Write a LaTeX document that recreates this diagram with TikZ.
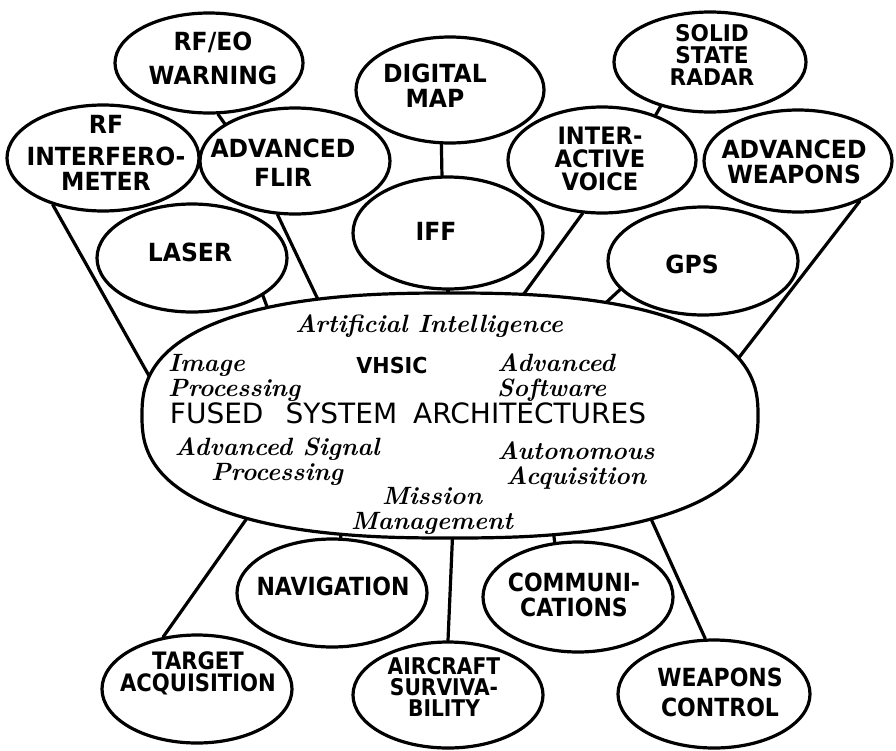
\documentclass[tikz,border=0pt]{standalone}
\usepackage{fontspec}
\usetikzlibrary{shapes.geometric}
\newfontfamily\capsfont[FakeStretch=0.94]{DejaVu Sans}
\newfontfamily\capsnarrow[FakeStretch=0.88]{DejaVu Sans}
\newfontfamily\plainsans{DejaVu Sans}

\pgfdeclarelayer{background}
\pgfsetlayers{background,main}

\tikzset{
  ink/.style={line width=3.2pt},
  bub/.style={ellipse, draw, fill=white, ink, inner sep=0pt},
  lbl/.style={font=\capsfont\bfseries\fontsize{25}{25}\selectfont, align=center, inner sep=0pt},
  lbln/.style={font=\capsnarrow\bfseries\fontsize{25}{25}\selectfont, align=center, inner sep=0pt},
  script/.style={font=\bfseries\itshape\fontsize{25}{25}\selectfont, inner sep=0pt},
  link/.style={ink, line cap=round},
}

\begin{document}
\begin{tikzpicture}[x=1pt, y=-1pt]
  \useasboundingbox (0,0) rectangle (896,750);

  % ---------- outer bubbles: sensors and subsystems ----------
  \node[bub, minimum width=188pt, minimum height=100pt] (rfeo)  at (209,63)  {};
  \node[bub, minimum width=188pt, minimum height=106pt] (dmap)  at (450,90)  {};
  \node[bub, minimum width=192pt, minimum height=100pt] (ssr)   at (710,62)  {};
  \node[bub, minimum width=192pt, minimum height=106pt] (rfi)   at (103,158) {};
  \node[bub, minimum width=190pt, minimum height=106pt] (aflir) at (295,161) {};
  \node[bub, minimum width=188pt, minimum height=106pt] (iv)    at (602,160) {};
  \node[bub, minimum width=188pt, minimum height=102pt] (aw)    at (798,161) {};
  \node[bub, minimum width=190pt, minimum height=108pt] (laser) at (192,258) {};
  \node[bub, minimum width=190pt, minimum height=112pt] (iff)   at (448,233) {};
  \node[bub, minimum width=190pt, minimum height=108pt] (gps)   at (703,261) {};

  \node[bub, minimum width=190pt, minimum height=108pt] (nav)   at (332,593) {};
  \node[bub, minimum width=190pt, minimum height=110pt] (comm)  at (578,597) {};
  \node[bub, minimum width=190pt, minimum height=108pt] (ta)    at (197,689) {};
  \node[bub, minimum width=190pt, minimum height=106pt] (as)    at (448,695) {};
  \node[bub, minimum width=192pt, minimum height=108pt] (wc)    at (714,694) {};

  % ---------- central superellipse ----------
  \filldraw[fill=white, ink]
    plot[domain=1:361, samples=181, variable=\t]
      ({450+308*sign(cos(\t))*abs(cos(\t))^0.8},
       {415.5+122.5*sign(sin(\t))*abs(sin(\t))^0.8}) -- cycle;
  \coordinate (fsa) at (450,415.5);

  % connector ends hidden just inside the central outline
  \coordinate (in-rfi)   at (157,390);
  \coordinate (in-laser) at (269,312);
  \coordinate (in-aflir) at (322,308);
  \coordinate (in-iff)   at (448,306);
  \coordinate (in-iv)    at (515,306);
  \coordinate (in-gps)   at (597,311);
  \coordinate (in-aw)    at (727,373);
  \coordinate (in-ta)    at (257,504);
  \coordinate (in-nav)   at (340,522);
  \coordinate (in-as)    at (453,525);
  \coordinate (in-comm)  at (552,522);
  \coordinate (in-wc)    at (647,510);

  \begin{pgfonlayer}{background}
    \fill[white] (0,0) rectangle (896,750);
    \draw[link] (rfi.223)   -- (in-rfi);
    \draw[link] (laser.332) -- (in-laser);
    \draw[link] (aflir.252) -- (in-aflir);
    \draw[link] (iff.south) -- (in-iff);
    \draw[link] (iv.250)    -- (in-iv);
    \draw[link] (gps.199)   -- (in-gps);
    \draw[link] (aw.327)    -- (in-aw);
    \draw[link] (ta.123)    -- (in-ta);
    \draw[link] (nav.81)    -- (in-nav);
    \draw[link] (as.north)  -- (in-as);
    \draw[link] (comm.113)  -- (in-comm);
    \draw[link] (wc.99)     -- (in-wc);
  \end{pgfonlayer}

  % short links between neighbouring bubbles
  \draw[link] (rfeo.280) -- (aflir.152);
  \draw[link] (ssr.222)  -- (iv.40);
  \draw[link] (dmap.261) -- (iff.96);

  % ---------- bubble labels ----------
  \node[lbl] (rfeo-t)  at (213,58)  {RF/EO\\[9pt]WARNING};
  \node[lbl] (dmap-t)  at (435,86)  {DIGITAL\\MAP};
  \node[lbl, font=\capsfont\bfseries\fontsize{23}{22}\selectfont] (ssr-t) at (712,55) {SOLID\\STATE\\RADAR};
  \node[lbl] (rfi-t)   at (106,153) {RF\\[7pt]INTERFERO-\\METER};
  \node[lbl] (aflir-t) at (283,163) {ADVANCED\\[4pt]FLIR};
  \node[lbl, font=\capsfont\bfseries\fontsize{24}{23}\selectfont] (iv-t) at (600,159) {INTER-\\ACTIVE\\VOICE};
  \node[lbl] (aw-t)    at (794,162) {ADVANCED\\WEAPONS};
  \node[lbl] (laser-t) at (190,252) {LASER};
  \node[lbl] (iff-t)   at (436,231) {IFF};
  \node[lbl] (gps-t)   at (692,264) {GPS};

  \node[lbln] (nav-t)  at (333,586) {NAVIGATION};
  \node[lbln] (comm-t) at (574,595) {COMMUNI-\\CATIONS};
  \node[lbln, font=\capsnarrow\bfseries\fontsize{24}{22}\selectfont] (ta-t) at (198,673) {TARGET\\ACQUISITION};
  \node[lbln, font=\capsnarrow\bfseries\fontsize{23}{21}\selectfont] (as-t) at (444,687) {AIRCRAFT\\SURVIVA-\\BILITY};
  \node[lbln] (wc-t)   at (720,692) {WEAPONS\\[5pt]CONTROL};

  % ---------- technologies inside the central shape ----------
  \node[script] (ai) at (429,326) {Artificial Intelligence};
  \node[script, align=left, anchor=west] (ip) at (168,378) {Image\\Processing};
  \node[font=\capsfont\bfseries\fontsize{22}{22}\selectfont, inner sep=0pt] (vhsic) at (392,365) {VHSIC};
  \node[script, align=left, anchor=west] (asw) at (497,378) {Advanced\\Software};
  \node[font=\plainsans\fontsize{28}{28}\selectfont, inner sep=0pt] (title) at (408,413)
    {FUSED\hspace{22pt}SYSTEM\hspace{16pt}ARCHITECTURES};
  \node[script, align=center] (asp) at (277,462) {Advanced Signal\\Processing};
  \node[script, align=center] (aa)  at (576,466) {Autonomous\\Acquisition};
  \node[script, align=center] (mm)  at (432,511) {Mission\\Management};
\end{tikzpicture}
\end{document}
